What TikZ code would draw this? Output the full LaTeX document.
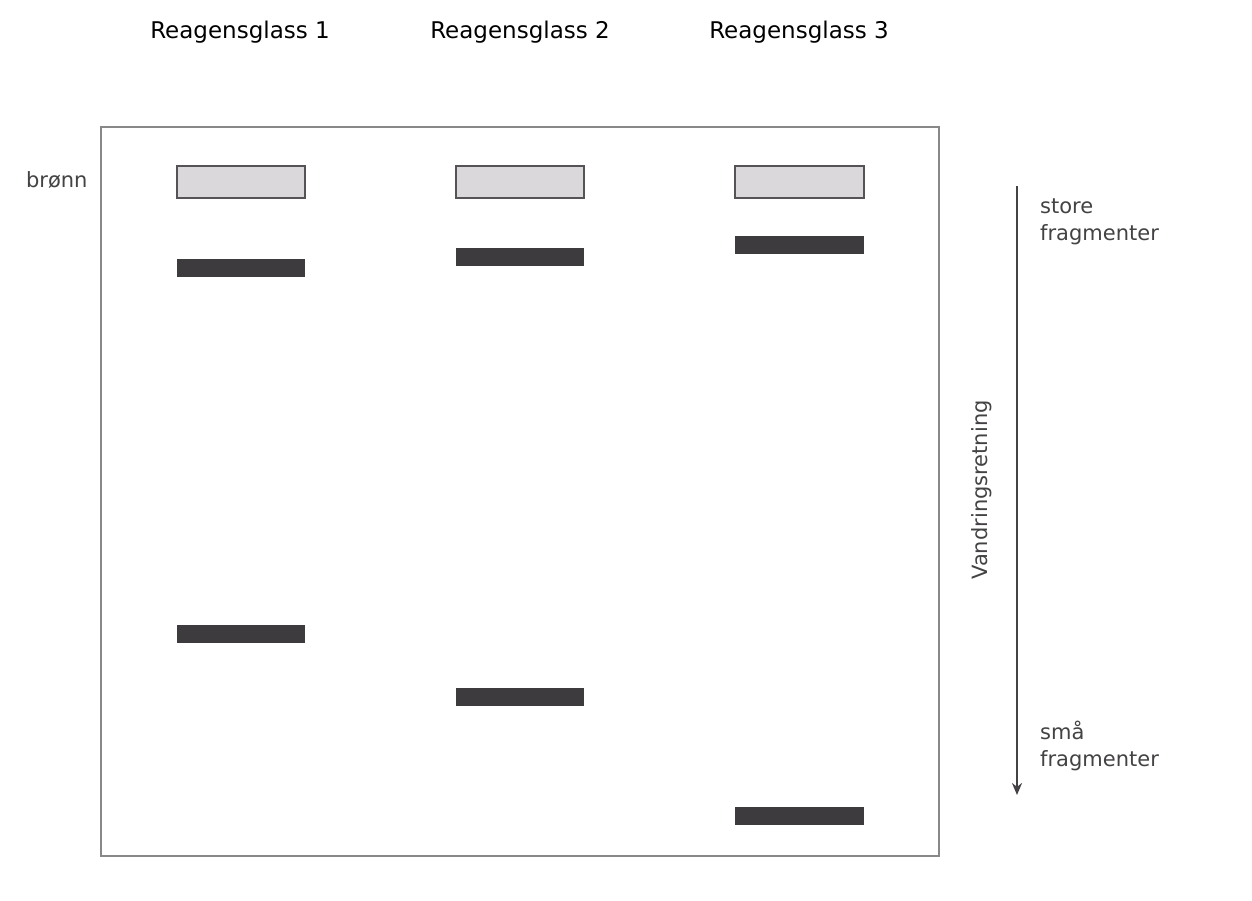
\documentclass[tikz,border=0pt]{standalone}
\usepackage{fontspec}
\setmainfont{DejaVu Sans}
\usetikzlibrary{arrows.meta}
\begin{document}
\begin{tikzpicture}[x=1pt,y=-1pt,
  title/.style={font=\fontsize{23}{27}\selectfont,text=black},
  lbl/.style={font=\fontsize{21}{27}\selectfont,text=lab,align=left},
  well/.style={draw=wellc,fill=wellf,line width=2pt},
  band/.style={fill=bandc}]
\definecolor{lab}{HTML}{444244}
\definecolor{wellc}{HTML}{555355}
\definecolor{wellf}{HTML}{DAD8DB}
\definecolor{bandc}{HTML}{3D3B3D}
\definecolor{gelc}{HTML}{888888}
\useasboundingbox[fill=white] (0,0) rectangle (1252,900);
\node[title] (t1) at (240,32) {Reagensglass 1};
\node[title] (t2) at (520,32) {Reagensglass 2};
\node[title] (t3) at (799,32) {Reagensglass 3};
\draw[draw=gelc,line width=2.5pt] (101,127) rectangle (939,856);
\node[lbl,anchor=east] (br) at (91,180) {brønn};
\draw[well] (177,166) rectangle (305,198);
\draw[well] (456,166) rectangle (584,198);
\draw[well] (735,166) rectangle (864,198);
\fill[band] (177,259) rectangle (305,277);
\fill[band] (177,625) rectangle (305,643);
\fill[band] (456,248) rectangle (584,266);
\fill[band] (456,688) rectangle (584,706);
\fill[band] (735,236) rectangle (864,254);
\fill[band] (735,807) rectangle (864,825);
\coordinate (a1) at (1017,186);
\coordinate (a2) at (1017,795);
\draw[draw=lab,line width=2.5pt,-{Stealth[length=12pt,width=10pt]}] (a1) -- (a2);
\node[lbl,anchor=north west,inner sep=0pt] (st) at (1040,199) {store\\fragmenter};
\node[lbl,anchor=north west,inner sep=0pt] (sm) at (1040,721) {små\\fragmenter};
\node[lbl,rotate=90] (v) at (982,490) {Vandringsretning};
\end{tikzpicture}
\end{document}
